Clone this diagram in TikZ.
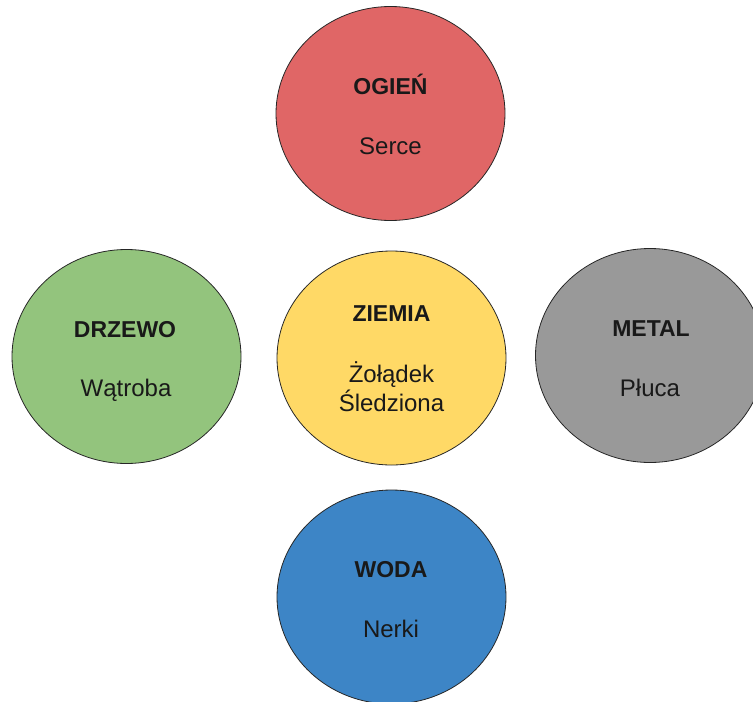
\documentclass[tikz,border=0pt]{standalone}
\usepackage{fontspec}
\setmainfont{Liberation Sans}
\usetikzlibrary{shapes.geometric}
\definecolor{cred}{HTML}{E06666}
\definecolor{cgreen}{HTML}{93C47D}
\definecolor{cgrey}{HTML}{999999}
\definecolor{cblue}{HTML}{3D85C6}
\definecolor{cyellow}{HTML}{FFD966}
\tikzset{
  element/.style={ellipse, draw=black!85, line width=0.8pt, minimum width=229pt, minimum height=214pt, inner sep=0pt},
  titletext/.style={anchor=base, font=\fontsize{23}{27}\selectfont\bfseries, text=black!90},
  organtext/.style={anchor=base, font=\fontsize{24}{28}\selectfont, text=black!90},
}
\begin{document}
\begin{tikzpicture}[x=1pt,y=-1pt]
\useasboundingbox (0,0) rectangle (753,702);
\node[element, fill=cred]    (fire)  at (390.5,113.5) {};
\node[element, fill=cgreen]  (wood)  at (126.5,356.5) {};
\node[element, fill=cyellow] (earth) at (391.5,358) {};
\node[element, fill=cgrey]   (metal) at (650,355.5) {};
\node[element, fill=cblue]   (water) at (391.5,597) {};

\node[titletext] (fireT)  at (390.5,94) {OGIEŃ};
\node[organtext] (fireO)  at (390.5,154) {Serce};
\node[titletext] (woodT)  at (125,337) {DRZEWO};
\node[organtext] (woodO)  at (126,396) {Wątroba};
\node[titletext] (earthT) at (391.5,321) {ZIEMIA};
\node[organtext] (earthO1) at (391.5,382) {Żołądek};
\node[organtext] (earthO2) at (391.5,411) {Śledziona};
\node[titletext] (metalT) at (651,336) {METAL};
\node[organtext] (metalO) at (650,396) {Płuca};
\node[titletext] (waterT) at (391,577) {WODA};
\node[organtext] (waterO) at (391,637) {Nerki};
\end{tikzpicture}
\end{document}
